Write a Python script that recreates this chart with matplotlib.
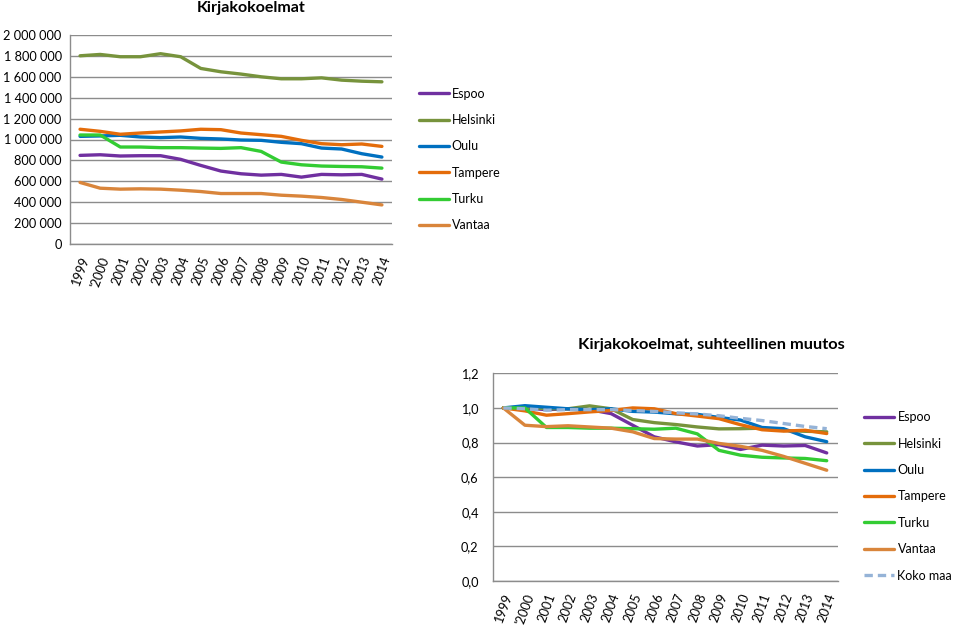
import matplotlib
matplotlib.use("Agg")
import matplotlib.pyplot as plt
from matplotlib.ticker import FuncFormatter

plt.rcParams['font.family'] = ['Lato', 'DejaVu Sans']

years = ["1999", "'2000", "2001", "2002", "2003", "2004", "2005", "2006", "2007",
         "2008", "2009", "2010", "2011", "2012", "2013", "2014"]

# Absolute collections
espoo = [848000, 854000, 842000, 845000, 845000, 810000, 752000, 698000, 672000,
         659000, 666000, 640000, 666000, 662000, 666000, 621000]
helsinki = [1801000, 1814000, 1792000, 1792000, 1821000, 1792000, 1680000, 1648000,
            1626000, 1600000, 1581000, 1581000, 1590000, 1568000, 1558000, 1552000]
oulu = [1030000, 1034000, 1040000, 1024000, 1018000, 1024000, 1011000, 1005000,
        995000, 992000, 973000, 960000, 918000, 909000, 864000, 832000]
tampere = [1098000, 1078000, 1050000, 1062000, 1072000, 1082000, 1098000, 1094000,
           1062000, 1046000, 1030000, 992000, 960000, 950000, 957000, 934000]
turku = [1043000, 1043000, 928000, 928000, 922000, 922000, 918000, 915000, 922000,
         886000, 784000, 758000, 746000, 742000, 739000, 726000]
vantaa = [589000, 534000, 525000, 528000, 525000, 515000, 502000, 483000, 483000,
          483000, 467000, 458000, 445000, 426000, 400000, 374000]

# Relative change
r_espoo = [1.0, 1.0, 0.99, 0.995, 0.99, 0.967, 0.90, 0.833, 0.804, 0.78, 0.788,
           0.76, 0.785, 0.78, 0.783, 0.74]
r_helsinki = [1.0, 1.005, 0.995, 0.995, 1.012, 0.995, 0.933, 0.915, 0.904, 0.89,
              0.879, 0.88, 0.883, 0.87, 0.865, 0.862]
r_oulu = [1.0, 1.013, 1.004, 0.995, 0.99, 0.995, 0.98, 0.976, 0.966, 0.963, 0.945,
          0.93, 0.887, 0.88, 0.833, 0.805]
r_tampere = [1.0, 0.983, 0.958, 0.967, 0.977, 0.985, 1.0, 0.995, 0.967, 0.953,
             0.938, 0.903, 0.874, 0.866, 0.871, 0.852]
r_turku = [1.0, 1.0, 0.887, 0.887, 0.883, 0.883, 0.88, 0.877, 0.883, 0.85, 0.755,
           0.727, 0.715, 0.711, 0.708, 0.695]
r_vantaa = [1.0, 0.90, 0.892, 0.897, 0.89, 0.883, 0.862, 0.823, 0.82, 0.82, 0.795,
            0.778, 0.755, 0.72, 0.68, 0.64]
r_koko = [1.0, 0.995, 0.987, 0.99, 0.99, 0.99, 0.985, 0.98, 0.972, 0.965, 0.955,
          0.94, 0.927, 0.91, 0.893, 0.88]

names = ["Espoo", "Helsinki", "Oulu", "Tampere", "Turku", "Vantaa"]
colors = ["#7030A0", "#77933C", "#0070C0", "#E46C0A", "#33CC33", "#D9853B"]
koko_color = "#95B3D7"

grid_c = "#8C8C8C"
FS = 9.2
LFS = 9.0
lw = 2.4

fig = plt.figure(figsize=(9.6, 6.25), dpi=100)

def style(ax, ypad):
    ax.set_xlim(-0.5, len(years) - 0.5)
    ax.set_xticks(range(len(years)))
    ax.set_xticklabels(years, rotation=70, fontsize=FS)
    ax.tick_params(axis='both', length=0, labelsize=FS, colors='black')
    ax.tick_params(axis='x', pad=8)
    ax.tick_params(axis='y', pad=ypad)
    ax.grid(axis='y', color=grid_c, linewidth=1)
    ax.set_axisbelow(True)
    for s in ['top', 'right']:
        ax.spines[s].set_visible(False)
    for s in ['left', 'bottom']:
        ax.spines[s].set_color(grid_c)
        ax.spines[s].set_linewidth(1)

x = range(len(years))

# Top chart
ax1 = fig.add_axes([0.0729, 0.6096, 0.3354, 0.3344])
for data, n, c in zip([espoo, helsinki, oulu, tampere, turku, vantaa], names, colors):
    ax1.plot(x, data, color=c, lw=lw, label=n, solid_capstyle='round')
ax1.set_ylim(0, 2000000)
ax1.set_yticks(range(0, 2000001, 200000))
ax1.yaxis.set_major_formatter(FuncFormatter(lambda v, p: f"{int(v):,}".replace(",", " ")))
style(ax1, 6)
fig.text(251 / 960, 1 - 8 / 625, "Kirjakokoelmat", fontsize=11.5, fontweight='bold',
         ha='center', va='center')
ax1.legend(loc='upper left', bbox_to_anchor=(0.425, 0.878), bbox_transform=fig.transFigure,
           frameon=False, fontsize=LFS, handlelength=2.4, handletextpad=0.2,
           labelspacing=1.15)

# Bottom chart
ax2 = fig.add_axes([0.5131, 0.0704, 0.3593, 0.3323])
for data, n, c in zip([r_espoo, r_helsinki, r_oulu, r_tampere, r_turku, r_vantaa], names, colors):
    ax2.plot(x, data, color=c, lw=lw, label=n, solid_capstyle='round')
ax2.plot(x, r_koko, color=koko_color, lw=lw, ls=(0, (2.5, 1.5)), label="Koko maa")
ax2.set_ylim(0, 1.2)
ax2.set_yticks([0, 0.2, 0.4, 0.6, 0.8, 1.0, 1.2])
ax2.yaxis.set_major_formatter(FuncFormatter(lambda v, p: f"{v:.1f}".replace(".", ",")))
style(ax2, 10)
fig.text(711.5 / 960, 1 - 345 / 625, "Kirjakokoelmat, suhteellinen muutos", fontsize=11.8,
         fontweight='bold', ha='center', va='center')
ax2.legend(loc='upper left', bbox_to_anchor=(0.888, 0.36), bbox_transform=fig.transFigure,
           frameon=False, fontsize=LFS, handlelength=2.4, handletextpad=0.3,
           labelspacing=1.15)

fig.savefig("out.png", dpi=100)
